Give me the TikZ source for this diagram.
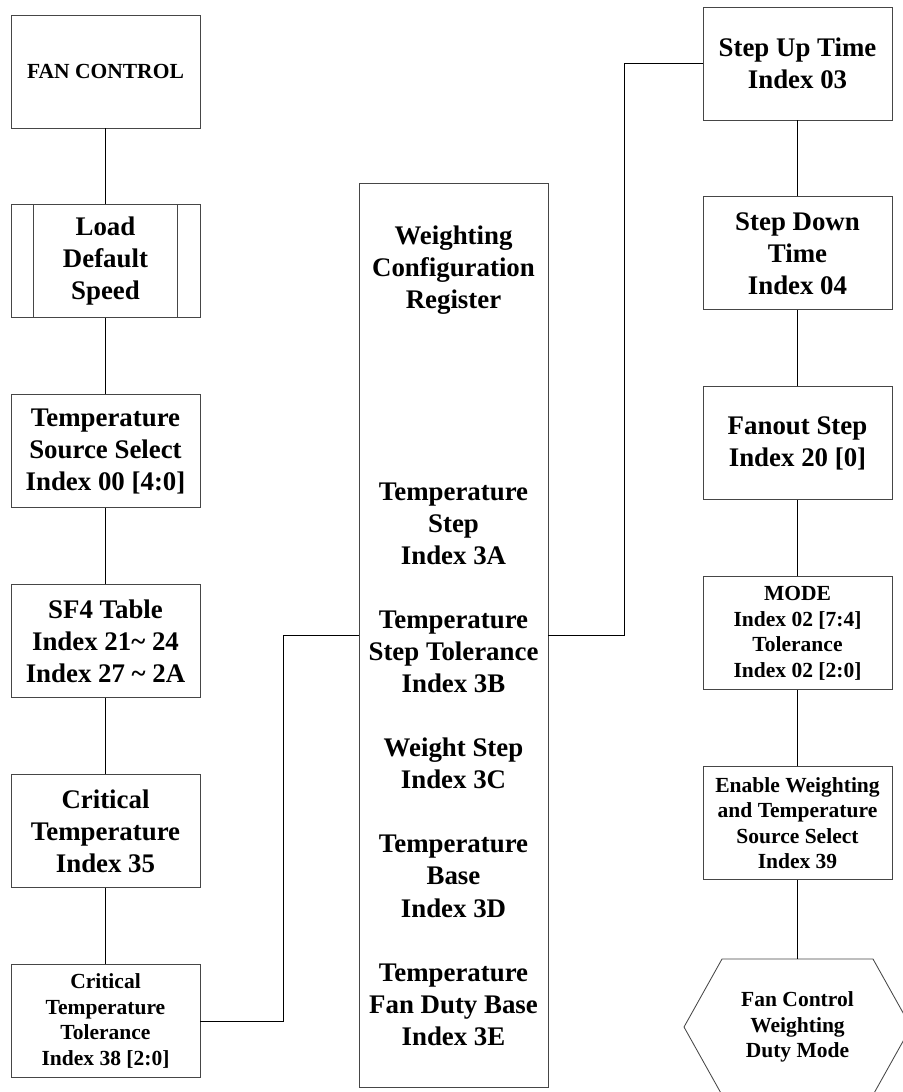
\documentclass[tikz,border=0pt]{standalone}
\usepackage{fontspec}
\setmainfont{Liberation Serif}
\usetikzlibrary{positioning,calc}
\definecolor{linegray}{RGB}{70,70,70}
\tikzset{
  regbox/.style={
    draw=linegray,
    line width=0.6pt,
    align=center,
    inner sep=0pt,
    minimum width=4.725cm,
    minimum height=2.825cm,
    font=\fontsize{19.1}{22.8}\selectfont\bfseries
  },
  smallbox/.style={regbox, font=\fontsize{15.3}{18.1}\selectfont\bfseries},
  flow/.style={draw=black, line width=0.6pt}
}
\begin{document}
\begin{tikzpicture}[x=0.025cm, y=-0.025cm, node distance=1.9cm]
  \useasboundingbox (0,0) rectangle (902,1092);
  % left column
  \node[smallbox] (fan) at (105.5,71.5) {FAN CONTROL};
  \node[regbox, below=of fan] (load) {Load\\Default\\Speed};
  \node[regbox, below=of load] (srcsel) {Temperature\\Source Select\\Index 00 [4:0]};
  \node[regbox, below=of srcsel] (sf4) {SF4 Table\\Index 21\textasciitilde{} 24\\Index 27 \textasciitilde{} 2A};
  \node[regbox, below=of sf4] (crit) {Critical\\Temperature\\Index 35};
  \node[smallbox, below=of crit] (crittol) {Critical\\Temperature\\Tolerance\\Index 38 [2:0]};
  \draw[linegray, line width=0.6pt] ([xshift=0.575cm]load.north west) -- ([xshift=0.575cm]load.south west);
  \draw[linegray, line width=0.6pt] ([xshift=-0.575cm]load.north east) -- ([xshift=-0.575cm]load.south east);
  \draw[flow] (fan) -- (load);
  \draw[flow] (load) -- (srcsel);
  \draw[flow] (srcsel) -- (sf4);
  \draw[flow] (sf4) -- (crit);
  \draw[flow] (crit) -- (crittol);
  % weighting register
  \node[regbox, minimum height=22.575cm] (wcr) at (453.5,635.5) {Weighting\\Configuration\\Register\\[4cm]Temperature\\Step\\Index 3A\\[0.8cm]Temperature\\Step Tolerance\\Index 3B\\[0.8cm]Weight Step\\Index 3C\\[0.8cm]Temperature\\Base\\Index 3D\\[0.8cm]Temperature\\Fan Duty Base\\Index 3E};
  \draw[flow] (crittol.east) -- ++(83,0) |- (wcr.west);
  % right column
  \node[regbox] (stepup) at (797.5,63.5) {Step Up Time\\Index 03};
  \node[regbox, below=of stepup] (stepdown) {Step Down\\Time\\Index 04};
  \node[regbox, below=of stepdown] (fanout) {Fanout Step\\Index 20 [0]};
  \node[smallbox, below=of fanout] (mode) {MODE\\Index 02 [7:4]\\Tolerance\\Index 02 [2:0]};
  \node[smallbox, below=of mode] (enable) {Enable Weighting\\and Temperature\\Source Select\\Index 39};
  \node[align=center, inner sep=0pt, font=\fontsize{15.3}{18.1}\selectfont\bfseries] (duty) at (797.5,1027) {Fan Control\\Weighting\\Duty Mode};
  \coordinate (hextop) at ($(duty.center)+(0,-68)$);
  \draw[linegray, line width=0.6pt] (duty.center) ++(-75.5,-68) -- ++(151,0) -- ++(38,68) -- ++(-38,68) -- ++(-151,0) -- ++(-38,-68) -- cycle;
  \draw[flow] (wcr.east) -- ++(76,0) |- (stepup.west);
  \draw[flow] (stepup) -- (stepdown);
  \draw[flow] (stepdown) -- (fanout);
  \draw[flow] (fanout) -- (mode);
  \draw[flow] (mode) -- (enable);
  \draw[flow] (enable) -- (hextop);
\end{tikzpicture}
\end{document}
